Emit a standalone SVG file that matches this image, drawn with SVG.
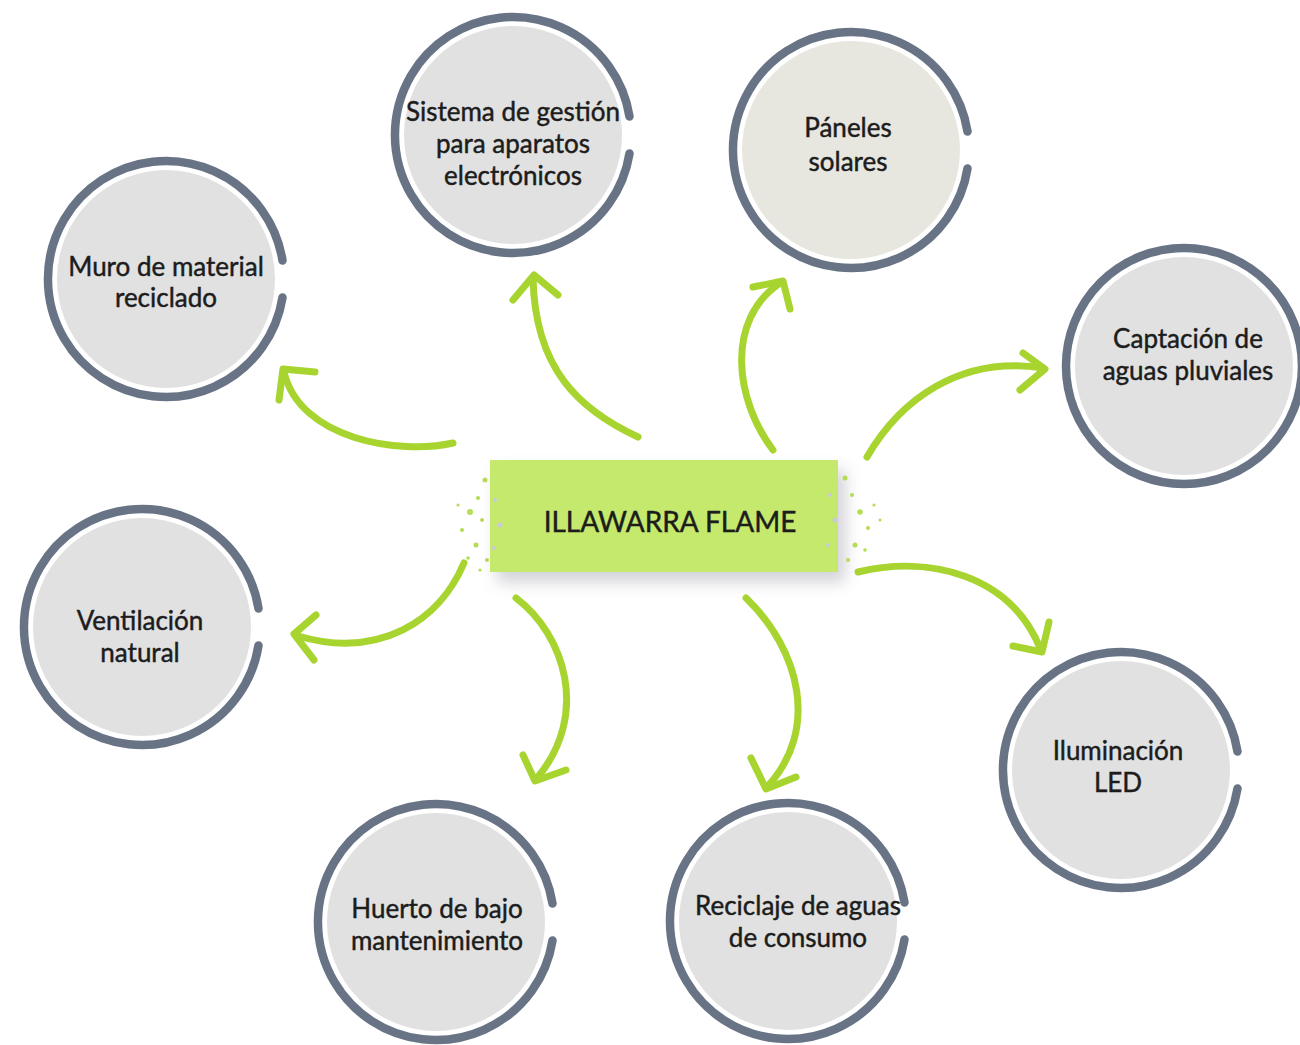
<svg xmlns="http://www.w3.org/2000/svg" xmlns:xlink="http://www.w3.org/1999/xlink" width="1300" height="1045" viewBox="0 0 1300 1045">
<style>
.fill{fill:#e1e1e1;stroke:#ffffff;stroke-width:2}
.fill2{fill:#e7e6df;stroke:#ffffff;stroke-width:2}
.ring{fill:none;stroke:#687486;stroke-width:8.5;stroke-linecap:round}
.lbl{font-family:Lato,"Open Sans",sans-serif;font-size:26px;fill:#1c1c1c;stroke:#1c1c1c;stroke-width:0.45;text-anchor:middle}
.title{font-family:Lato,"Open Sans",sans-serif;font-size:28px;fill:#1c1c1c;stroke:#1c1c1c;stroke-width:0.45;text-anchor:middle}
.arrow{fill:none;stroke:#a8d430;stroke-width:7;stroke-linecap:round;stroke-linejoin:round}
.sp{fill:#b5dc55}
.sg{fill:#c9ccd8}
</style>
<defs>
<path id="ring" class="ring" d="M116.5,-18.5 A118,118 0 1 0 116.5,18.5"/>
<filter id="blur" x="-20%" y="-40%" width="140%" height="180%"><feGaussianBlur stdDeviation="8"/></filter>
</defs>
<rect width="1300" height="1045" fill="#ffffff"/>

<g id="connectors">
<path class="arrow" d="M453,443 C400,455 300,440 284,372"/>
<path class="arrow" d="M315,372 L283,369 L279,400"/>
<path class="arrow" d="M638,437 C580,410 535,370 533,278"/>
<path class="arrow" d="M513,300 L534,275 L558,295"/>
<path class="arrow" d="M773,450 C735,400 725,320 780,283"/>
<path class="arrow" d="M753,287 L783,281 L790,309"/>
<path class="arrow" d="M867,457 C900,400 960,355 1043,368"/>
<path class="arrow" d="M1023,353 L1045,369 L1020,390"/>
<path class="arrow" d="M464,563 C440,620 380,660 298,636"/>
<path class="arrow" d="M316,615 L294,634 L314,660"/>
<path class="arrow" d="M516,598 C565,635 590,715 537,778"/>
<path class="arrow" d="M523,755 L535,781 L566,770"/>
<path class="arrow" d="M746,598 C800,650 820,730 767,787"/>
<path class="arrow" d="M751,758 L766,789 L796,777"/>
<path class="arrow" d="M858,572 C930,555 1010,575 1040,648"/>
<path class="arrow" d="M1013,646 L1042,652 L1049,622"/>
</g>

<g id="center">
<rect x="497" y="470" width="348" height="112" fill="#9a9aa8" opacity="0.45" filter="url(#blur)"/>
<rect x="490" y="460" width="348" height="112" fill="#c5e96c"/>
<g class="sp">
<circle cx="485" cy="480" r="2.5"/><circle cx="478" cy="498" r="2"/><circle cx="470" cy="512" r="3"/><circle cx="462" cy="530" r="2"/><circle cx="476" cy="545" r="2.5"/><circle cx="468" cy="558" r="1.8"/><circle cx="482" cy="520" r="2"/><circle cx="458" cy="505" r="1.5"/><circle cx="487" cy="560" r="2"/><circle cx="480" cy="570" r="1.6"/>
<circle cx="845" cy="478" r="2.5"/><circle cx="852" cy="495" r="2"/><circle cx="860" cy="512" r="2.8"/><circle cx="868" cy="528" r="2"/><circle cx="855" cy="545" r="2.5"/><circle cx="874" cy="505" r="1.6"/><circle cx="848" cy="560" r="2"/><circle cx="880" cy="520" r="1.5"/><circle cx="865" cy="550" r="1.8"/>
</g>
<g class="sg">
<circle cx="495" cy="500" r="2"/><circle cx="500" cy="525" r="2.5"/><circle cx="494" cy="548" r="2"/><circle cx="830" cy="495" r="2"/><circle cx="835" cy="520" r="2.5"/><circle cx="828" cy="545" r="2"/>
</g>
<text class="title" x="670" y="532">ILLAWARRA FLAME</text>
</g>

<g id="n-muro">
<circle class="fill" cx="166" cy="279" r="110"/>
<use xlink:href="#ring" href="#ring" x="166" y="279"/>
<text class="lbl" x="166" y="276">Muro de material</text>
<text class="lbl" x="166" y="307">reciclado</text>
</g>

<g id="n-sistema">
<circle class="fill" cx="513" cy="135" r="110"/>
<use xlink:href="#ring" href="#ring" x="513" y="135"/>
<text class="lbl" x="513" y="121">Sistema de gestión</text>
<text class="lbl" x="513" y="153">para aparatos</text>
<text class="lbl" x="513" y="185">electrónicos</text>
</g>

<g id="n-paneles">
<circle class="fill2" cx="851" cy="150" r="110"/>
<use xlink:href="#ring" href="#ring" x="851" y="150"/>
<text class="lbl" x="848" y="137">Páneles</text>
<text class="lbl" x="848" y="171">solares</text>
</g>

<g id="n-captacion">
<circle class="fill" cx="1184" cy="366" r="110"/>
<circle cx="1184" cy="366" r="118" fill="none" stroke="#687486" stroke-width="8.5"/>
<text class="lbl" x="1188" y="348">Captación de</text>
<text class="lbl" x="1188" y="380">aguas pluviales</text>
</g>

<g id="n-ventilacion">
<circle class="fill" cx="142" cy="627" r="110"/>
<use xlink:href="#ring" href="#ring" x="142" y="627"/>
<text class="lbl" x="140" y="630">Ventilación</text>
<text class="lbl" x="140" y="662">natural</text>
</g>

<g id="n-iluminacion">
<circle class="fill" cx="1121" cy="770" r="110"/>
<use xlink:href="#ring" href="#ring" x="1121" y="770"/>
<text class="lbl" x="1118" y="760">Iluminación</text>
<text class="lbl" x="1118" y="792">LED</text>
</g>

<g id="n-huerto">
<circle class="fill" cx="436" cy="922" r="110"/>
<use xlink:href="#ring" href="#ring" x="436" y="922"/>
<text class="lbl" x="437" y="918">Huerto de bajo</text>
<text class="lbl" x="437" y="950">mantenimiento</text>
</g>

<g id="n-reciclaje">
<circle class="fill" cx="788" cy="921" r="110"/>
<use xlink:href="#ring" href="#ring" x="788" y="921"/>
<text class="lbl" x="798" y="915">Reciclaje de aguas</text>
<text class="lbl" x="798" y="947">de consumo</text>
</g>
</svg>
